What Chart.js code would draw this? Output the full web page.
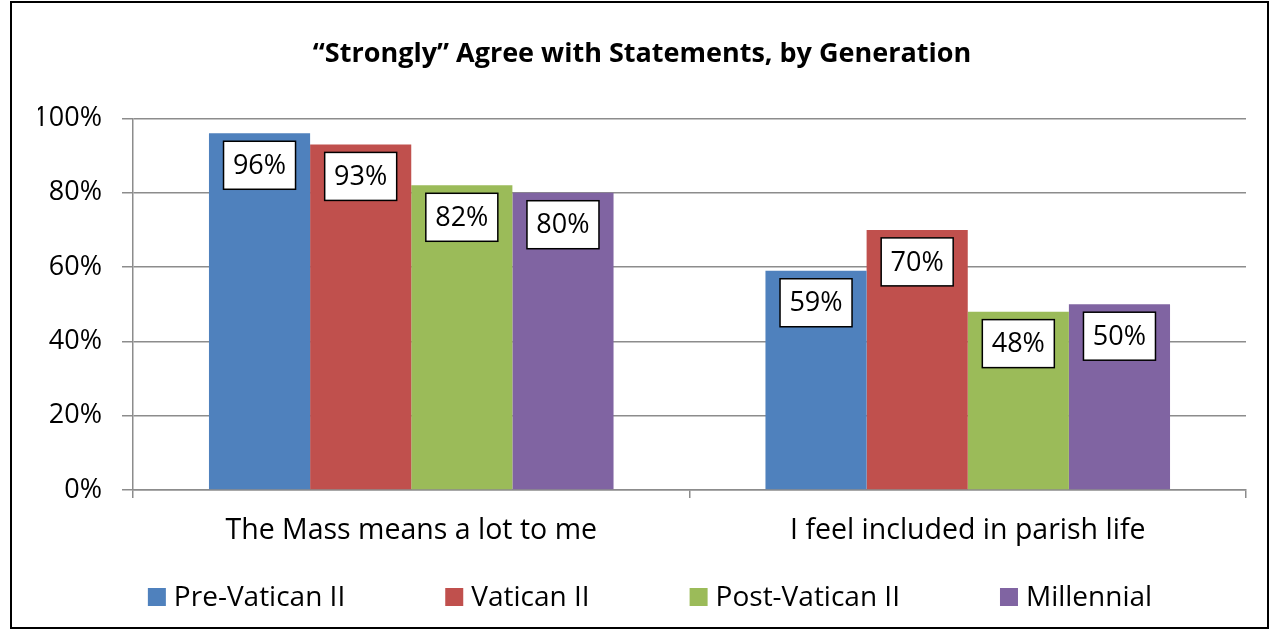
<!DOCTYPE html>
<html>
<head>
<meta charset="utf-8">
<script src="https://cdn.jsdelivr.net/npm/chart.js@4.4.1/dist/chart.umd.min.js"></script>
<style>
  html, body { margin: 0; padding: 0; background: #ffffff; }
  #wrap { position: relative; width: 1272px; height: 631px; }
</style>
</head>
<body>
<div id="wrap"><canvas id="genChart" width="1272" height="631"></canvas></div>
<script>
// Survey data
const categories = ['The Mass means a lot to me', 'I feel included in parish life'];
const generations = ['Pre-Vatican II', 'Vatican II', 'Post-Vatican II', 'Millennial'];
const preVatican = [96, 59];
const vatican = [93, 70];
const postVatican = [82, 48];
const millennial = [80, 50];
const yTicks = [0, 20, 40, 60, 80, 100];

const colors = ['#4F81BD', '#C0504D', '#9BBB59', '#8064A2'];
const FONT = '"Open Sans", sans-serif';
const TICK_SIZE = 27;
const LABEL_SIZE = 28.5;
const LEGEND_SIZE = 28;

// Outer frame around the whole chart
const framePlugin = {
    id: 'frame',
    beforeDraw(chart) {
        const ctx = chart.ctx;
        ctx.save();
        ctx.fillStyle = '#ffffff';
        ctx.fillRect(0, 0, chart.width, chart.height);
        ctx.strokeStyle = '#000000';
        ctx.lineWidth = 2;
        ctx.strokeRect(11, 2, 1257, 626);
        ctx.restore();
    }
};

// White boxed value labels just under the top of each bar
const boxLabelPlugin = {
    id: 'boxLabels',
    afterDatasetsDraw(chart) {
        const ctx = chart.ctx;
        ctx.save();
        ctx.font = TICK_SIZE + 'px ' + FONT;
        ctx.textAlign = 'center';
        ctx.textBaseline = 'middle';
        chart.data.datasets.forEach((ds, i) => {
            chart.getDatasetMeta(i).data.forEach((bar, j) => {
                const w = 72, h = 48;
                const x = bar.x - w / 2;
                const y = bar.y + 8;
                ctx.fillStyle = '#ffffff';
                ctx.fillRect(x, y, w, h);
                ctx.strokeStyle = '#000000';
                ctx.lineWidth = 1.5;
                ctx.strokeRect(x, y, w, h);
                ctx.fillStyle = '#000000';
                ctx.fillText(ds.data[j] + '%', bar.x, y + h / 2 + 1);
            });
        });
        ctx.restore();
    }
};

// Legend row along the bottom (square swatch + name, fixed gap between items)
const bottomLegendPlugin = {
    id: 'bottomLegend',
    afterDraw(chart) {
        const ctx = chart.ctx;
        const box = 18, textGap = 8, itemGap = 100;
        const centerX = 650, centerY = 597;
        ctx.save();
        ctx.font = LEGEND_SIZE + 'px ' + FONT;
        ctx.textBaseline = 'middle';
        const items = chart.data.datasets.map(ds => ({
            text: ds.label,
            color: ds.backgroundColor,
            w: box + textGap + ctx.measureText(ds.label).width
        }));
        const total = items.reduce((s, it) => s + it.w, 0) + itemGap * (items.length - 1);
        let x = centerX - total / 2;
        items.forEach(it => {
            ctx.fillStyle = it.color;
            ctx.fillRect(x, centerY - box / 2, box, box);
            ctx.fillStyle = '#000000';
            ctx.fillText(it.text, x + box + textGap, centerY + 1);
            x += it.w + itemGap;
        });
        ctx.restore();
    }
};

const seriesData = [preVatican, vatican, postVatican, millennial];

const ctx = document.getElementById('genChart').getContext('2d');
const genChart = new Chart(ctx, {
    type: 'bar',
    data: {
        labels: categories,
        datasets: generations.map((g, i) => ({
            label: g,
            data: seriesData[i],
            backgroundColor: colors[i],
            borderWidth: 0,
            barPercentage: 1.0,
            categoryPercentage: 0.727
        }))
    },
    options: {
        responsive: false,
        animation: false,
        layout: { padding: { left: 38, right: 26, top: 0, bottom: 71 } },
        plugins: {
            title: {
                display: true,
                text: '\u201cStrongly\u201d Agree with Statements, by Generation',
                color: '#000000',
                font: { family: FONT, size: 27, weight: 'bold' },
                padding: { top: 38, bottom: 48 }
            },
            legend: { display: false },
            tooltip: { enabled: false }
        },
        scales: {
            x: {
                offset: true,
                grid: {
                    offset: true,
                    drawOnChartArea: false,
                    drawTicks: true,
                    tickLength: 8,
                    color: '#8c8c8c',
                    lineWidth: 1.5
                },
                border: { color: '#8c8c8c', width: 1.5 },
                ticks: {
                    color: '#000000',
                    font: { family: FONT, size: LABEL_SIZE },
                    padding: 16
                },
                afterFit(scale) { scale.height = 70; }
            },
            y: {
                min: 0,
                max: 100,
                afterBuildTicks(scale) {
                    scale.ticks = yTicks.map(v => ({ value: v }));
                },
                grid: {
                    color: '#8c8c8c',
                    lineWidth: 1.5,
                    drawTicks: true,
                    tickLength: 11
                },
                border: { color: '#8c8c8c', width: 1.5 },
                ticks: {
                    color: '#000000',
                    font: { family: FONT, size: TICK_SIZE },
                    padding: 20,
                    callback: v => v + '%'
                },
                afterFit(scale) { scale.width = 95; }
            }
        }
    },
    plugins: [framePlugin, boxLabelPlugin, bottomLegendPlugin]
});
</script>
</body>
</html>
